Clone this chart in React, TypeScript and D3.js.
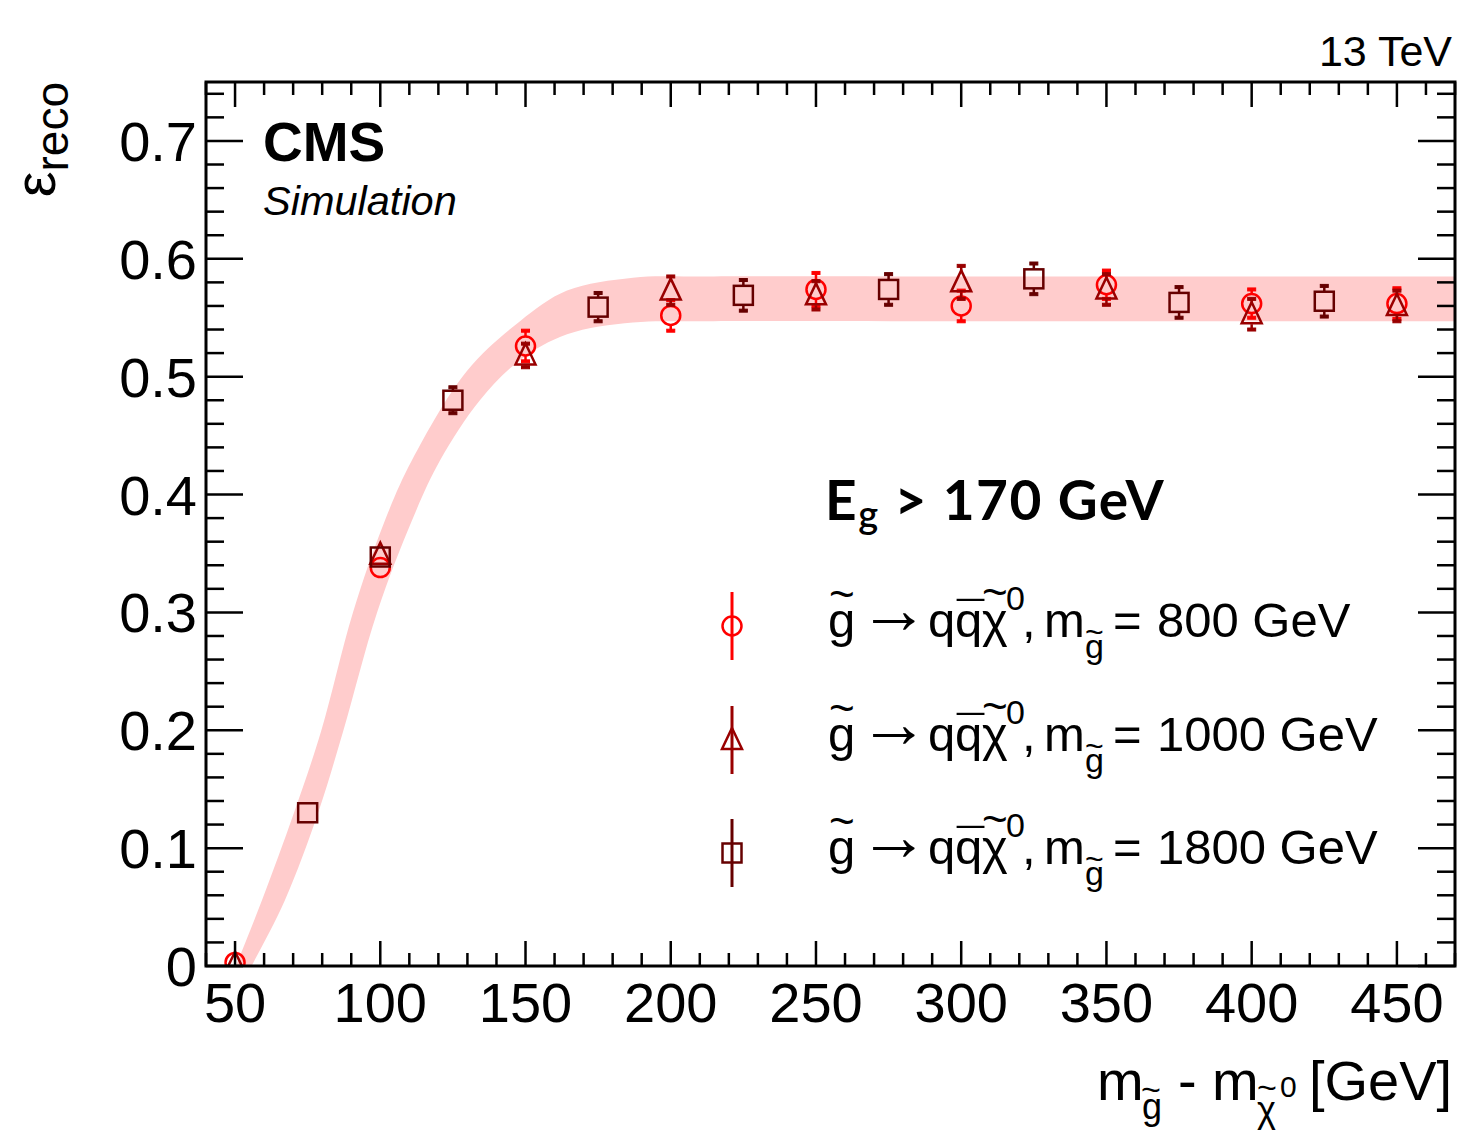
import React from 'react';
import * as d3 from 'd3';

// mass splitting points (GeV) and reconstruction efficiencies
const xs800 = [50, 100, 150, 200, 250, 300, 350, 400, 450];
const eff800 = [0.003, 0.338, 0.526, 0.552, 0.574, 0.560, 0.578, 0.562, 0.562];
const err800 = [0.003, 0.008, 0.013, 0.013, 0.014, 0.013, 0.012, 0.012, 0.013];

const xs1000 = [50, 100, 150, 200, 250, 300, 350, 400, 450];
const eff1000 = [0.002, 0.349, 0.518, 0.573, 0.569, 0.580, 0.574, 0.553, 0.560];
const err1000 = [0.002, 0.008, 0.010, 0.012, 0.012, 0.014, 0.013, 0.013, 0.013];

const xs1800 = [75, 100, 125, 175, 225, 275, 325, 375, 425];
const eff1800 = [0.130, 0.347, 0.480, 0.559, 0.569, 0.574, 0.583, 0.563, 0.564];
const err1800 = [0.004, 0.008, 0.011, 0.012, 0.013, 0.013, 0.013, 0.013, 0.013];

const legendMasses = ['800 GeV', '1000 GeV', '1800 GeV'];

// fit uncertainty band edges
const bandUpX = [47.1, 50.3, 59.3, 70.3, 79.6, 90.6, 101.6, 110.9, 129.9, 148.1, 164.3, 187, 210, 300, 400, 480];
const bandUpY = [-0.02, 0, 0.056, 0.130, 0.199, 0.300, 0.378, 0.429, 0.505, 0.547, 0.573, 0.584, 0.585, 0.585, 0.585, 0.585];
const bandLoX = [51.5, 55.7, 67.2, 78.6, 87.2, 98.9, 110.9, 120.6, 134.3, 148.1, 164.3, 187, 210, 300, 400, 480];
const bandLoY = [-0.02, 0, 0.056, 0.130, 0.199, 0.300, 0.378, 0.429, 0.480, 0.514, 0.536, 0.546, 0.547, 0.547, 0.547, 0.547];

const xMajor = [50, 100, 150, 200, 250, 300, 350, 400, 450];
const yMajor = [0, 0.1, 0.2, 0.3, 0.4, 0.5, 0.6, 0.7];
const yLabels = ['0', '0.1', '0.2', '0.3', '0.4', '0.5', '0.6', '0.7'];

const FONT = 'Liberation Sans, Arial, Helvetica, sans-serif';

const series = [
  { xs: xs800, ys: eff800, es: err800, shape: 'circle', color: '#ff0000' },
  { xs: xs1000, ys: eff1000, es: err1000, shape: 'triangle', color: '#990000' },
  { xs: xs1800, ys: eff1800, es: err1800, shape: 'square', color: '#660000' },
];

const Marker = ({ shape, cx, cy, color }) => {
  const sw = 2.5;
  if (shape === 'circle')
    return <circle cx={cx} cy={cy} r={9.5} fill="none" stroke={color} strokeWidth={sw} />;
  if (shape === 'triangle')
    return (
      <path
        d={`M${cx},${cy - 12}L${cx + 10},${cy + 9}L${cx - 10},${cy + 9}Z`}
        fill="none"
        stroke={color}
        strokeWidth={sw}
      />
    );
  return <rect x={cx - 9.5} y={cy - 9.5} width={19} height={19} fill="none" stroke={color} strokeWidth={sw} />;
};

const App = () => {
  const width = 1461, height = 1131;
  const margin = { top: 82, right: 6, bottom: 165, left: 206 };
  const x0 = margin.left, x1 = width - margin.right;
  const y0 = height - margin.bottom, y1 = margin.top;

  const x = d3.scaleLinear().domain([40, 470]).range([x0, x1]);
  const y = d3.scaleLinear().domain([0, 0.75]).range([y0, y1]);

  const xMinor = d3.range(4, 48).map(i => i * 10).filter(v => v % 50 !== 0);
  const yMinor = d3.range(0, 38).map(i => i * 0.02).filter((_, i) => i % 5 !== 0);

  const line = d3.line().x(d => x(d[0])).y(d => y(d[1])).curve(d3.curveCatmullRom);
  const upPts = bandUpX.map((v, i) => [v, bandUpY[i]]);
  const loPts = bandLoX.map((v, i) => [v, bandLoY[i]]).reverse();
  const bandPath = line(upPts) + line(loPts).replace(/^M/, 'L') + 'Z';

  const legendY = [626, 740, 853];

  return (
    <svg width={width} height={height} style={{ position: 'absolute', left: 0, top: 0, background: '#fff' }}>
      <defs>
        <clipPath id="frame">
          <rect x={x0} y={y1} width={x1 - x0} height={y0 - y1} />
        </clipPath>
      </defs>

      <path d={bandPath} fill="#ffcccc" clipPath="url(#frame)" />

      {/* error bars + markers */}
      <g clipPath="url(#frame)">
        {series.map((s, si) =>
          s.xs.map((xv, i) => {
            const cx = x(xv), cy = y(s.ys[i]);
            const e = y(s.ys[i] - s.es[i]) - cy;
            const half = 10;
            return (
              <g key={si + '-' + i}>
                {e > half + 1 && (
                  <g stroke={s.color} strokeWidth={2.5}>
                    <line x1={cx} x2={cx} y1={cy - half} y2={cy - e} />
                    <line x1={cx} x2={cx} y1={cy + half} y2={cy + e} />
                    <rect x={cx - 4} y={cy - e - 1.5} width={8} height={3} fill={s.color} strokeWidth={1} />
                    <rect x={cx - 4} y={cy + e - 1.5} width={8} height={3} fill={s.color} strokeWidth={1} />
                  </g>
                )}
                <Marker shape={s.shape} cx={cx} cy={cy} color={s.color} />
              </g>
            );
          })
        )}
      </g>

      {/* ticks */}
      <g stroke="#000" strokeWidth={2.5}>
        {xMajor.map(v => (
          <g key={'xM' + v}>
            <line x1={x(v)} x2={x(v)} y1={y0} y2={y0 - 25} />
            <line x1={x(v)} x2={x(v)} y1={y1} y2={y1 + 25} />
          </g>
        ))}
        {xMinor.map(v => (
          <g key={'xm' + v}>
            <line x1={x(v)} x2={x(v)} y1={y0} y2={y0 - 13} />
            <line x1={x(v)} x2={x(v)} y1={y1} y2={y1 + 13} />
          </g>
        ))}
        {yMajor.map(v => (
          <g key={'yM' + v}>
            <line x1={x0} x2={x0 + 37} y1={y(v)} y2={y(v)} />
            <line x1={x1} x2={x1 - 37} y1={y(v)} y2={y(v)} />
          </g>
        ))}
        {yMinor.map(v => (
          <g key={'ym' + v}>
            <line x1={x0} x2={x0 + 18} y1={y(v)} y2={y(v)} />
            <line x1={x1} x2={x1 - 18} y1={y(v)} y2={y(v)} />
          </g>
        ))}
      </g>
      <rect x={x0} y={y1} width={x1 - x0} height={y0 - y1} fill="none" stroke="#000" strokeWidth={3} />

      {/* tick labels */}
      <g fontFamily={FONT} fontSize={56} fill="#000">
        {xMajor.map(v => (
          <text key={'xl' + v} x={x(v)} y={1022} textAnchor="middle">{v}</text>
        ))}
        {yMajor.map((v, i) => (
          <text key={'yl' + v} x={197} y={y(v) + 20} textAnchor="end">{yLabels[i]}</text>
        ))}
      </g>

      {/* axis titles */}
      <text transform={`translate(55,82) rotate(-90)`} textAnchor="end" fontFamily={FONT} fill="#000">
        <tspan fontSize={58}>ε</tspan>
        <tspan fontSize={46} dy={13}>reco</tspan>
      </text>

      <text fontFamily={FONT} fill="#000" fontSize={56}>
        <tspan x={1097} y={1100}>m</tspan>
        <tspan x={1142} y={1119} fontSize={36}>g</tspan>
        <tspan x={1141} y={1101} fontSize={34}>~</tspan>
        <tspan x={1178} y={1100}>-</tspan>
        <tspan x={1212} y={1100}>m</tspan>
        <tspan x={1257} y={1122} fontSize={36}>χ</tspan>
        <tspan x={1257} y={1099} fontSize={34}>~</tspan>
        <tspan x={1280} y={1097} fontSize={30}>0</tspan>
        <tspan x={1309} y={1100}>[GeV]</tspan>
      </text>

      <text x={1452} y={66} textAnchor="end" fontFamily={FONT} fontSize={43}>13 TeV</text>
      <text x={263} y={161} fontFamily={FONT} fontSize={55} fontWeight="bold">CMS</text>
      <text x={263} y={215} fontFamily={FONT} fontSize={41.5} fontStyle="italic">Simulation</text>

      <text x={825} y={520} fontFamily="Lato, Open Sans, sans-serif" fontWeight="bold" fontSize={55} letterSpacing={1.5} fill="#000">
        <tspan>E</tspan>
        <tspan fontSize={38} fontWeight={600} dy={8}>g</tspan>
        <tspan dy={-8}> &gt; 170 GeV</tspan>
      </text>

      {/* legend */}
      {series.map((s, i) => {
        const ly = legendY[i];
        const yb = ly + 11;
        return (
          <g key={'lg' + i}>
            <line x1={732} x2={732} y1={ly - 34} y2={ly + 34} stroke={s.color} strokeWidth={3} />
            <Marker shape={s.shape} cx={732} cy={ly} color={s.color} />
            <text fontFamily={FONT} fontSize={49} fill="#000">
              <tspan x={828} y={yb}>g</tspan>
              <tspan x={829} y={yb - 28} fontSize={44}>~</tspan>
              <tspan x={859} y={yb - 4} fontSize={70}>→</tspan>
              <tspan x={928} y={yb}>q</tspan>
              <tspan x={955} y={yb}>q</tspan>
              <tspan x={957} y={yb - 2}>¯</tspan>
              <tspan x={982} y={yb}>χ</tspan>
              <tspan x={982} y={yb - 30} fontSize={44}>~</tspan>
              <tspan x={1006} y={yb - 27} fontSize={34}>0</tspan>
              <tspan x={1022} y={yb}>,</tspan>
              <tspan x={1044} y={yb}>m</tspan>
              <tspan x={1085} y={yb + 21} fontSize={34}>g</tspan>
              <tspan x={1085} y={yb + 6} fontSize={32}>~</tspan>
              <tspan x={1113} y={yb}>=</tspan>
              <tspan x={1157} y={yb}>{legendMasses[i]}</tspan>
            </text>
          </g>
        );
      })}
    </svg>
  );
};

export default App;
